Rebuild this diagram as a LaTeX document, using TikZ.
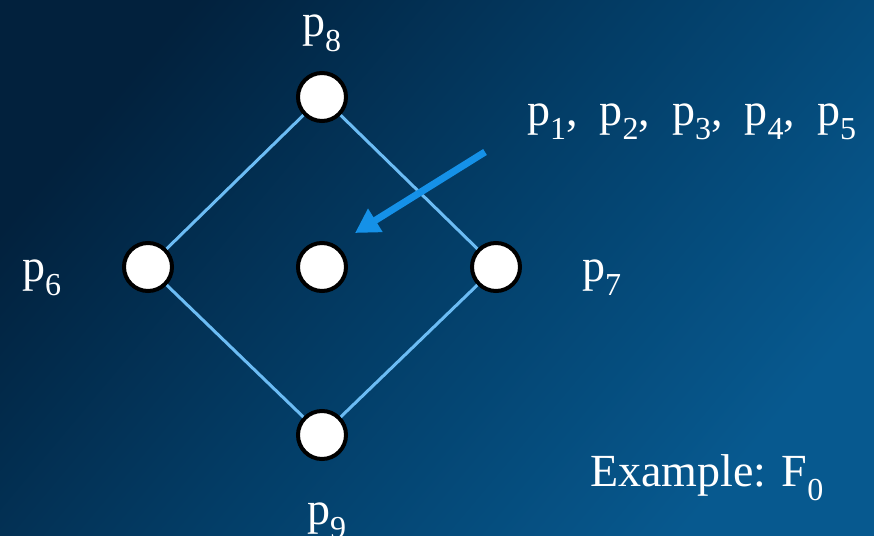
\documentclass[tikz,border=0pt]{standalone}
\usepackage{fontspec}
\setmainfont{Liberation Serif}
\usetikzlibrary{arrows.meta}
\definecolor{bgdark}{HTML}{02213D}
\definecolor{bgmid}{HTML}{033E68}
\definecolor{bglight}{HTML}{07598F}
\definecolor{edgeblue}{HTML}{6CBCF4}
\definecolor{arrowblue}{HTML}{1591E8}
\newcommand\psub[2]{#1\raisebox{-0.32em}{\fontsize{32}{32}\selectfont #2}}
\newcommand\gsep{,\hspace{22pt}}
\tikzset{
  pt/.style={circle, draw=black, fill=white, line width=4pt, minimum size=48pt, inner sep=0pt},
  edge/.style={draw=edgeblue, line width=3pt},
  lbl/.style={text=white, inner sep=0pt, anchor=base west, font=\fontsize{46}{46}\selectfont},
  pointer/.style={draw=arrowblue, line width=7pt, -{Triangle[length=24pt,width=26pt]}}
}
\begin{document}
\begin{tikzpicture}[x=1pt,y=-1pt]
\shade[top color=bgdark, bottom color=bglight, middle color=bgmid, shading angle=50] (0,0) rectangle (874,535);
\useasboundingbox (0,0) rectangle (874,535);
\node[pt] (n8) at (322,97) {};
\node[pt] (n6) at (148,267) {};
\node[pt] (nc) at (322,267) {};
\node[pt] (n7) at (496,267) {};
\node[pt] (n9) at (322,435) {};
\draw[edge] (n8) -- (n6);
\draw[edge] (n6) -- (n9);
\draw[edge] (n9) -- (n7);
\draw[edge] (n7) -- (n8);
\coordinate (as) at (485,152);
\coordinate (at) at (355,233);
\draw[pointer] (as) -- (at);
\node[lbl] (l8) at (302,37) {\psub{p}{8}};
\node[lbl] (l15) at (527,125) {\psub{p}{1}\gsep\psub{p}{2}\gsep\psub{p}{3}\gsep\psub{p}{4}\gsep\psub{p}{5}};
\node[lbl] (l6) at (22,281) {\psub{p}{6}};
\node[lbl] (l7) at (582,281) {\psub{p}{7}};
\node[lbl] (l9) at (307,524) {\psub{p}{9}};
\node[lbl] (ex) at (590,486) {Example: \psub{F}{0}};
\end{tikzpicture}
\end{document}
